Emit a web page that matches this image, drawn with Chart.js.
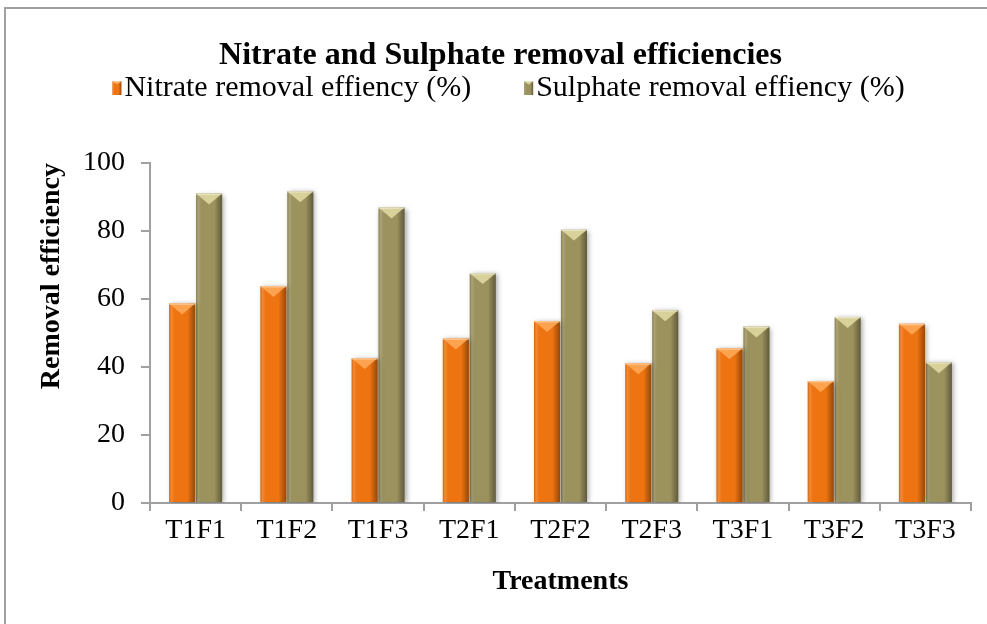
<!DOCTYPE html>
<html>
<head>
<meta charset="utf-8">
<title>Nitrate and Sulphate removal efficiencies</title>
<script src="https://cdn.jsdelivr.net/npm/chart.js@4.4.1/dist/chart.umd.min.js"></script>
<style>
  html, body { margin: 0; padding: 0; background: #fff; }
  #wrap { width: 987px; height: 624px; }
</style>
</head>
<body>
<div id="wrap"><canvas id="removal-chart"></canvas></div>
<script>
const treatments = ['T1F1', 'T1F2', 'T1F3', 'T2F1', 'T2F2', 'T2F3', 'T3F1', 'T3F2', 'T3F3'];
const nitrateRemoval = [58.7, 63.8, 42.6, 48.4, 53.5, 41.1, 45.5, 35.9, 52.7];
const sulphateRemoval = [91.0, 91.7, 86.9, 67.6, 80.4, 56.7, 51.9, 54.7, 41.4];
const yTicks = [0, 20, 40, 60, 80, 100];

const serif = '"Liberation Serif", "Times New Roman", serif';
const axisGray = '#a0a0a0';

// office-style bevel: darker right edge, light chevron at the top
function shade(ctx, left, top, w, h, tip) {
  const g = ctx.createLinearGradient(left, 0, left + w, 0);
  g.addColorStop(0, 'rgba(0,0,0,0.08)');
  g.addColorStop(0.08, 'rgba(255,255,255,0.16)');
  g.addColorStop(0.2, 'rgba(255,255,255,0)');
  g.addColorStop(0.7, 'rgba(0,0,0,0)');
  g.addColorStop(1, 'rgba(0,0,0,0.38)');
  ctx.fillStyle = g;
  ctx.fillRect(left, top, w, h);
  const d = Math.min(w * 0.42, h / 2);
  ctx.fillStyle = tip;
  ctx.beginPath();
  ctx.moveTo(left, top);
  ctx.lineTo(left + w, top);
  ctx.lineTo(left + w / 2, top + d);
  ctx.closePath();
  ctx.fill();
  ctx.fillStyle = 'rgba(255,255,255,0.35)';
  ctx.fillRect(left, top, w, 1.5);
}

const bevel = {
  id: 'bevel',
  beforeDatasetsDraw(chart) {
    const ctx = chart.ctx;
    ctx.save();
    ctx.shadowColor = 'rgba(0,0,0,0.35)';
    ctx.shadowBlur = 5;
    ctx.shadowOffsetX = 2;
    ctx.shadowOffsetY = 1;
  },
  afterDatasetsDraw(chart) {
    const ctx = chart.ctx;
    ctx.restore();
    ctx.save();
    chart.data.datasets.forEach((ds, i) => {
      chart.getDatasetMeta(i).data.forEach(bar => {
        const p = bar.getProps(['x', 'y', 'base', 'width'], true);
        shade(ctx, p.x - p.width / 2, p.y, p.width, p.base - p.y, ds.tipColor);
      });
    });
    ctx.restore();
  }
};

const frame = {
  id: 'frame',
  beforeDraw(chart) {
    const ctx = chart.ctx;
    ctx.save();
    ctx.strokeStyle = axisGray;
    ctx.lineWidth = 2;
    ctx.beginPath();
    ctx.moveTo(5, chart.height);
    ctx.lineTo(5, 8);
    ctx.lineTo(chart.width, 8);
    ctx.stroke();
    ctx.restore();
  }
};

// legend drawn by hand: small box, tight gap to the text, wide gap between items
const seriesLegend = {
  id: 'seriesLegend',
  afterDraw(chart) {
    const ctx = chart.ctx;
    ctx.save();
    ctx.font = '30px ' + serif;
    ctx.textBaseline = 'middle';
    const box = 9, gap = 3, spacing = 53, y = 88;
    const items = chart.data.datasets.map(ds => ({ ds, w: ctx.measureText(ds.label).width }));
    const total = items.reduce((s, it) => s + box + gap + it.w, 0) + spacing * (items.length - 1);
    let x = chart.width / 2 + 15 - total / 2;
    items.forEach(it => {
      ctx.fillStyle = it.ds.backgroundColor;
      ctx.fillRect(x, y - 7, box, 14);
      shade(ctx, x, y - 7, box, 14, it.ds.tipColor);
      ctx.fillStyle = '#000';
      ctx.fillText(it.ds.label, x + box + gap, y);
      x += box + gap + it.w + spacing;
    });
    ctx.restore();
  }
};

new Chart(document.getElementById('removal-chart'), {
  type: 'bar',
  data: {
    labels: treatments,
    datasets: [
      {
        label: 'Nitrate removal effiency (%)',
        data: nitrateRemoval,
        backgroundColor: '#ee7411',
        tipColor: 'rgba(255,172,90,0.85)',
        borderWidth: 0,
        categoryPercentage: 0.59,
        barPercentage: 0.97
      },
      {
        label: 'Sulphate removal effiency (%)',
        data: sulphateRemoval,
        backgroundColor: '#9b925e',
        tipColor: 'rgba(228,220,165,0.85)',
        borderWidth: 0,
        categoryPercentage: 0.59,
        barPercentage: 0.97
      }
    ]
  },
  options: {
    responsive: true,
    maintainAspectRatio: false,
    animation: false,
    layout: { padding: { top: 6, left: 30, right: 16, bottom: 24 } },
    plugins: {
      legend: { display: false },
      tooltip: { enabled: false },
      title: {
        display: true,
        text: 'Nitrate and Sulphate removal efficiencies',
        color: '#000',
        font: { family: serif, size: 32, weight: 'bold' },
        padding: { top: 31, bottom: 87.6 }
      }
    },
    scales: {
      x: {
        afterFit: s => { s.height = 97; },
        border: { color: axisGray, width: 2 },
        grid: { drawOnChartArea: false, drawTicks: true, tickLength: 8, color: axisGray, lineWidth: 2 },
        ticks: { color: '#000', font: { family: serif, size: 28 }, padding: 3 },
        title: {
          display: true,
          text: 'Treatments',
          color: '#000',
          font: { family: serif, size: 28, weight: 'bold' },
          padding: { top: 0, bottom: 1 }
        }
      },
      y: {
        min: yTicks[0],
        max: yTicks[yTicks.length - 1],
        afterFit: s => { s.width = 120; },
        border: { color: axisGray, width: 2 },
        grid: { drawOnChartArea: false, drawTicks: true, tickLength: 9, color: axisGray, lineWidth: 2 },
        ticks: { stepSize: yTicks[1] - yTicks[0], color: '#000', font: { family: serif, size: 28 }, padding: 16 },
        title: {
          display: true,
          text: 'Removal efficiency',
          align: 'end',
          color: '#000',
          font: { family: serif, size: 28, weight: 'bold' },
          padding: { top: 5, bottom: 0 }
        }
      }
    }
  },
  plugins: [frame, bevel, seriesLegend]
});
</script>
</body>
</html>
